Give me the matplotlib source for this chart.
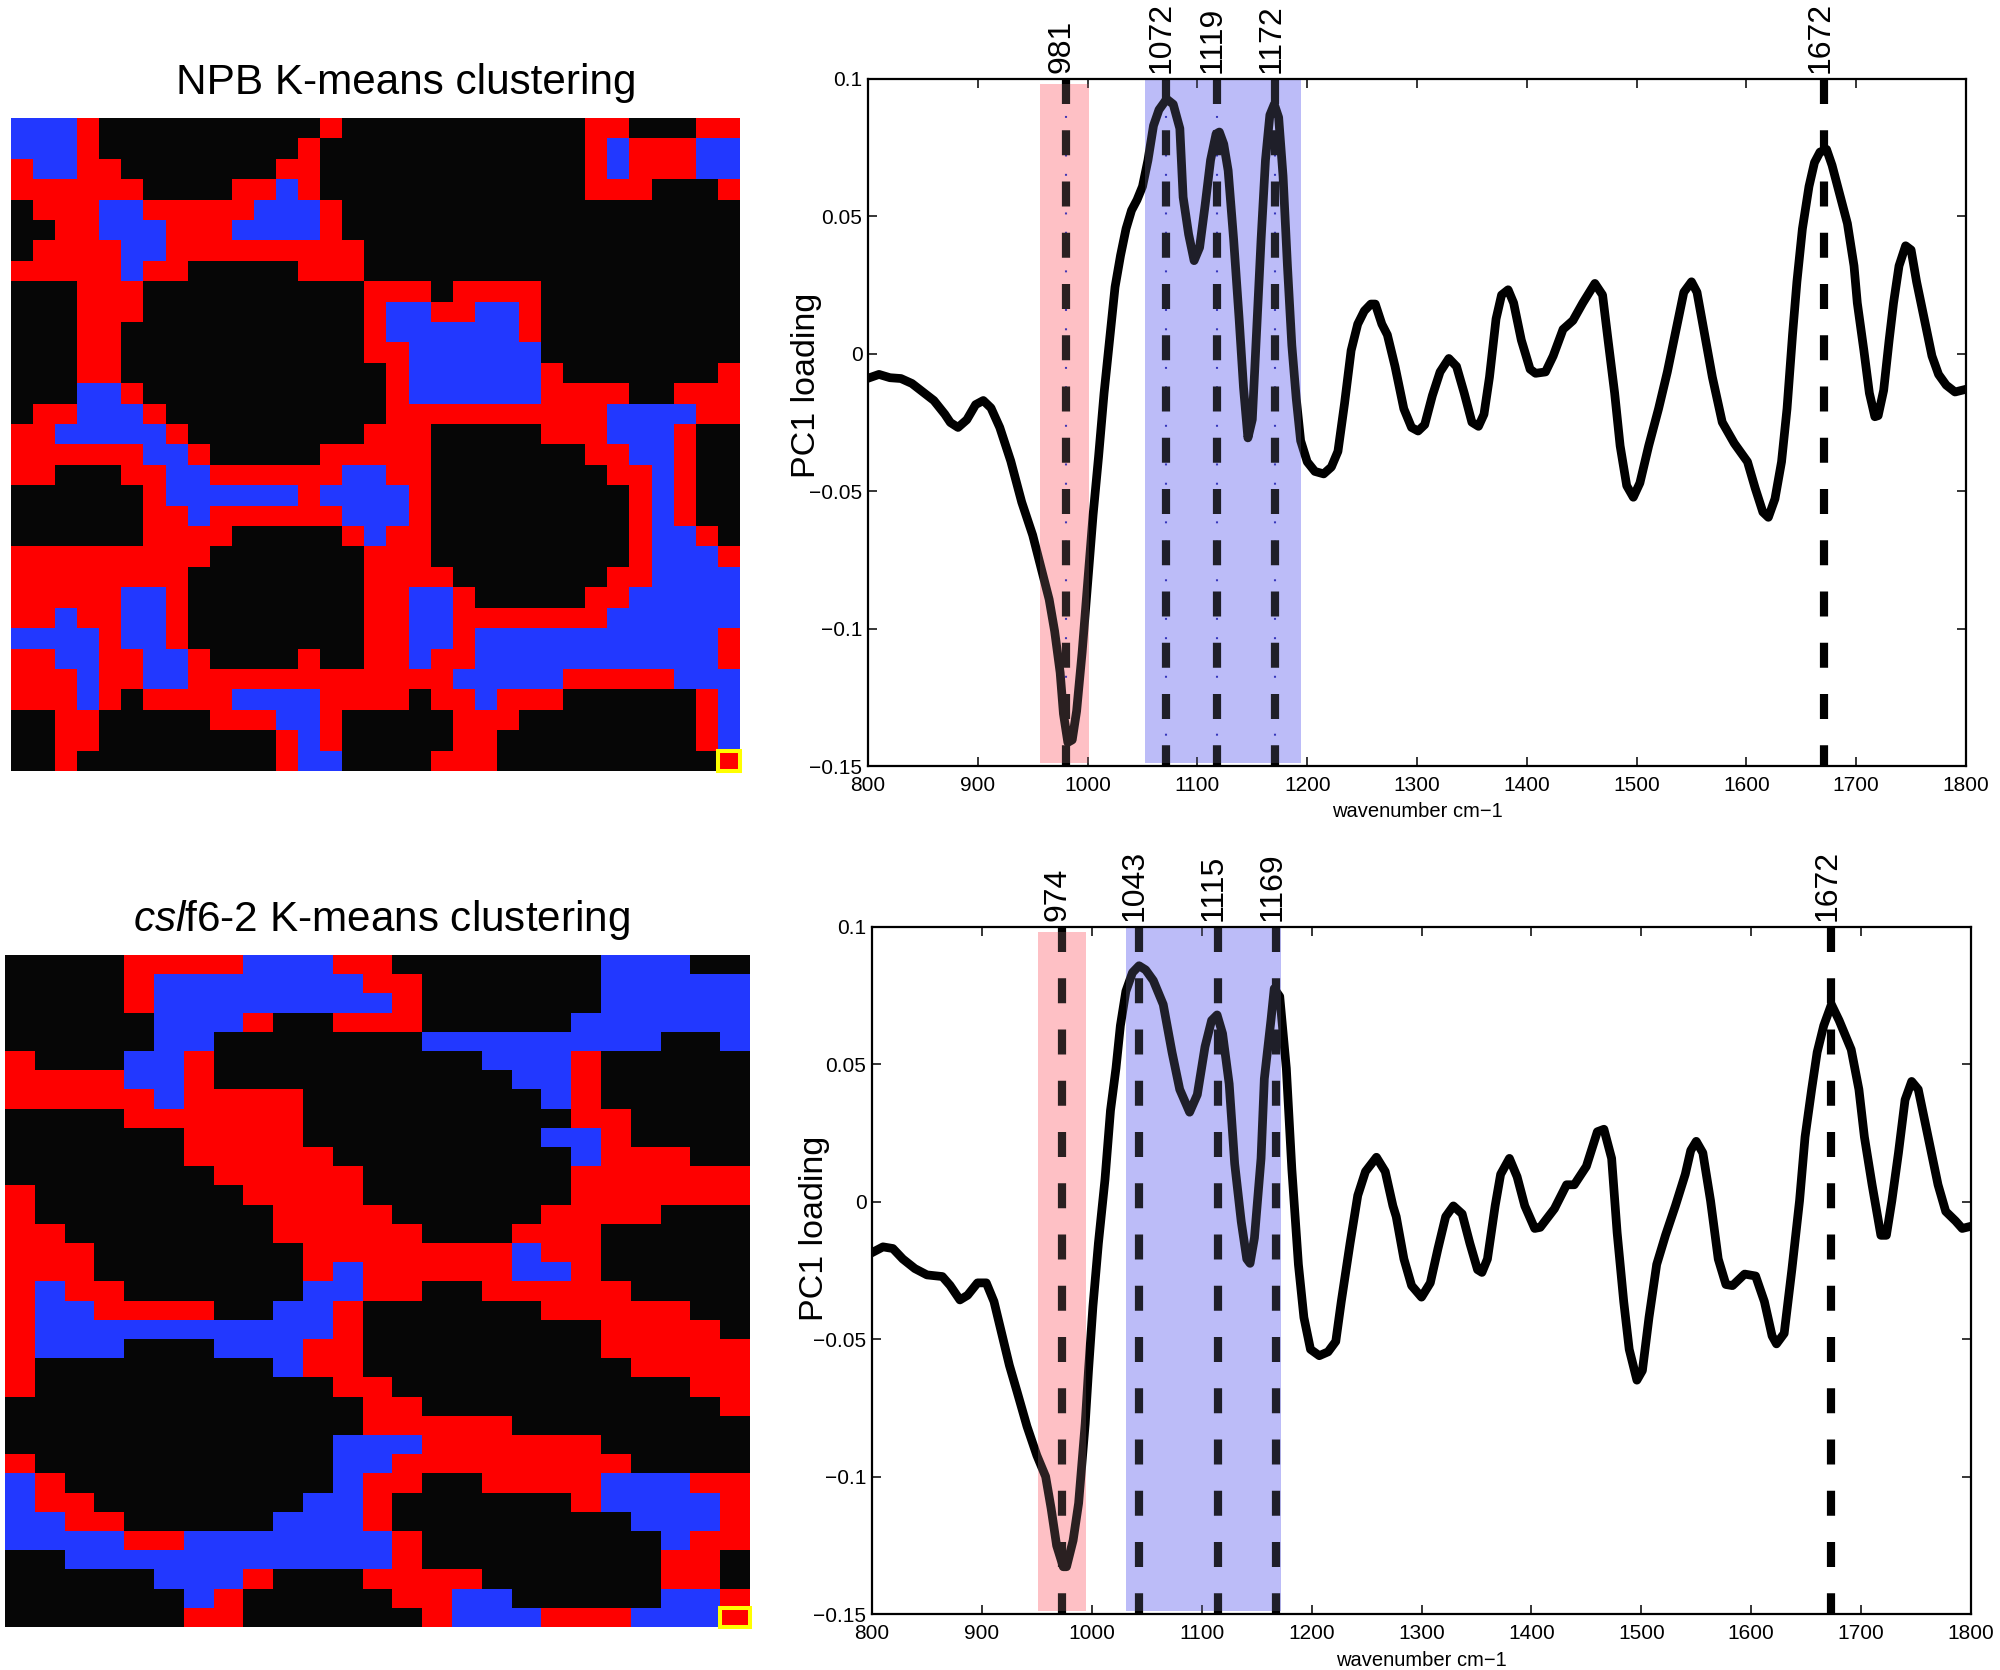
import matplotlib
matplotlib.use('Agg')
import matplotlib.pyplot as plt
from matplotlib.colors import ListedColormap
from matplotlib.patches import Rectangle
import numpy as np

plt.rcParams['font.family'] = ['Liberation Sans', 'DejaVu Sans']
plt.rcParams['mathtext.fontset'] = 'custom'
plt.rcParams['mathtext.rm'] = 'Liberation Sans'
plt.rcParams['mathtext.it'] = 'Liberation Sans:italic'
plt.rcParams['lines.scale_dashes'] = False

# cluster maps: . = background, r = cluster 1, b = cluster 2
npb_rows = [
    "bbb r .......... r ........... rr ... rr",
    "bbb r ......... r ............ r b rrr bb",
    "r bb rr ....... rr ............ r b rrr bb",
    "rrrrrr .... rr b r ............ rrr ... r",
    ". rrr bb rrrrr bbb r ..................",
    ".. rr bbb rrr bbbb r ..................",
    ". rrrr bb rrrrrrrrr .................",
    "rrrrr b rr ..... rrr .................",
    "... rrr .......... rrr . rrrr .........",
    "... rrr .......... r bb rr bb r .........",
    "... rr ........... r bbbbbb r .........",
    "... rr ........... rr bbbbbb .........",
    "... rr ............ r bbbbbb r ....... r",
    "... bb r ........... r bbbbbb rrrr .. rrr",
    ". rr bbb r .......... rrrrrrrrrr bbbb rr",
    "rr bbbbb r ........ rrr ..... rrr bbb r ..",
    "rrrrrr bb r ..... rrrrr ....... rr bb r ..",
    "rr ... rr bb rrrrrr bb rr ........ rr b r ..",
    "...... r bbbbbb r bbbb r ......... r b r ..",
    "...... rr b rrrrrr bbb r ......... r b r ..",
    "...... rrrr ..... r b rr ......... r bb r .",
    "rrrrrrrrr ....... rrr ......... r bbb r",
    "rrrrrrrr ........ rrrr ....... rr bbbb",
    "rrrrr bb r ........ rr bb r ..... rr bbbbb",
    "rr b rr bb r ........ rr bb rrrrrrr bbbbbb",
    "bbbb r bb r ........ rr bb r bbbbbbbbbbb r",
    "rr bb rr bb r .... r .. rr b rr bbbbbbbbbbb r",
    "rrr b rr bb rrrrrrrrrrrr bbbbb rrrrr bbb",
    "rrr b r . rrrr bbbb rrrr . rr b rrr ...... r b",
    ".. rr ..... rrr bb r ..... rrr ........ r b",
    ".. rr ........ r b r ..... rr ......... r b",
    ".. r ......... r bb .... rrr .......... r",
]
cslf_rows = [
    ".... rrrr bbb rr ....... bbb ..",
    ".... r bbbbbbb rr ...... bbbbb",
    ".... r bbbbbbbb r ...... bbbbb",
    "..... bbb r .. rrr ..... bbbbbb",
    "..... bb ....... bbbbbbbb .. b",
    "r ... bb r ......... bbb r .....",
    "rrrr bb r .......... bb r .....",
    "rrrrr b rrrr ........ b r .....",
    ".... rrrrrr ......... rr ....",
    "...... rrrr ........ bb r ....",
    "...... rrrrr ........ b rrr ..",
    "....... rrrrr ....... rrrrrr",
    "r ....... rrrr ....... rrrrrr",
    "r ........ rrrr ..... rrrr ...",
    "rr ....... rrrrr ... rrr .....",
    "rrr ....... rrrrrrr b rr .....",
    "rrr ....... r b rrrrr bb r .....",
    "r b rr ...... bb rr .. rrrrr ....",
    "r bb rrrr .. bb r ...... rrrrr ..",
    "r bbbbbbbbbb r ........ rrrr .",
    "r bbb ... bbb rr ........ rrrrr",
    "r ........ b rr ......... rrrr",
    "r .......... rr .......... rr",
    "............ rr .......... r",
    "............ rrrrr ........",
    "........... bbb rrrrrr .....",
    "r .......... bb rrrrrrrr ....",
    "b r ......... b rr .. rrrr bbb rr",
    "b rr ....... bb r ...... r bbbb r",
    "bb rr ..... bbb r ........ bbb r",
    "bbbb rr bbbbbbb r ........ b rr",
    ".. bbbbbbbbbbb r ........ rr .",
    "..... bbb r ... rrrr ...... rr .",
    "...... b r ..... rr bb ..... bb r",
    "...... rr ...... r bbb rrr bbb r",
]

# PC1 loading spectra
npb_wn = [800, 810, 820, 830, 840, 850, 860, 870, 875, 882, 890, 898, 905, 912, 920, 930, 940, 950, 960, 965,
          970, 975, 978, 982, 986, 990, 995, 1000, 1005, 1010, 1015, 1020, 1025, 1030, 1035, 1040, 1045, 1050,
          1055, 1060, 1065, 1072, 1078, 1084, 1087, 1092, 1097, 1102, 1107, 1112, 1117, 1120, 1124, 1128, 1133,
          1138, 1142, 1146, 1150, 1154, 1158, 1162, 1166, 1170, 1174, 1178, 1182, 1186, 1190, 1194, 1200, 1207,
          1215, 1222, 1228, 1234, 1240, 1246, 1252, 1258, 1262, 1268, 1273, 1280, 1288, 1295, 1301, 1307, 1314,
          1321, 1329, 1336, 1343, 1350, 1356, 1361, 1366, 1372, 1377, 1383, 1388, 1395, 1403, 1408, 1417, 1424,
          1433, 1442, 1451, 1462, 1469, 1474, 1480, 1485, 1491, 1497, 1503, 1511, 1520, 1528, 1536, 1543, 1550,
          1555, 1562, 1569, 1578, 1589, 1601, 1608, 1615, 1620, 1626, 1632, 1637, 1642, 1646, 1651, 1657, 1662,
          1667, 1673, 1678, 1685, 1692, 1698, 1701, 1707, 1712, 1717, 1720, 1725, 1730, 1734, 1739, 1745, 1750,
          1755, 1762, 1769, 1775, 1782, 1790, 1800]
npb_pc1 = [-.0089, -.0075, -.0087, -.009, -.0108, -.0139, -.017, -.022, -.025, -.0268, -.024, -.0185, -.017, -.0197,
           -.0268, -.039, -.054, -.066, -.0817, -.0894, -.101, -.116, -.131, -.1414, -.1405, -.13, -.1087, -.0836,
           -.0586, -.0374, -.0143, .005, .0243, .0358, .0455, .0522, .056, .0609, .0705, .083, .0888, .0927, .0908,
           .082, .057, .0435, .0339, .0387, .054, .0705, .08, .0807, .0763, .0667, .0416, .0127, -.0123, -.0306,
           -.0239, .0089, .0416, .0705, .0869, .0908, .086, .0647, .032, .0031, -.0162, -.0316, -.0393, -.0428,
           -.0437, -.0412, -.0355, -.0181, .0012, .0108, .0156, .0181, .0181, .0108, .0069, -.0046, -.02, -.0268,
           -.0281, -.0258, -.0152, -.0066, -.0017, -.0046, -.0143, -.0249, -.0264, -.022, -.0085, .0127, .0214,
           .0233, .0185, .005, -.0056, -.0071, -.0066, -.0008, .0089, .0121, .0185, .0256, .0214, .005, -.0143,
           -.0335, -.048, -.0522, -.047, -.0335, -.02, -.0066, .0089, .0224, .0262, .0224, .0069, -.0085, -.0249,
           -.0326, -.0393, -.0489, -.0576, -.0595, -.0528, -.0393, -.02, .0069, .0262, .0455, .0609, .0696, .0734,
           .0744, .0686, .058, .0474, .032, .0185, .0012, -.0143, -.0229, -.0225, -.0133, .005, .0185, .032, .0393,
           .0378, .0262, .0127, -.0008, -.0075, -.0114, -.0139, -.0129]

cslf_wn = [800, 810, 819, 828, 839, 850, 864, 871, 880, 887, 896, 904, 911, 918, 925, 932, 941, 950, 958, 963, 968,
           974, 977, 983, 988, 994, 997, 1001, 1006, 1012, 1017, 1022, 1026, 1031, 1037, 1043, 1049, 1056, 1065,
           1073, 1080, 1089, 1096, 1103, 1109, 1114, 1119, 1125, 1130, 1136, 1141, 1144, 1148, 1154, 1157, 1163,
           1166, 1171, 1177, 1182, 1188, 1193, 1199, 1207, 1215, 1222, 1227, 1235, 1242, 1249, 1259, 1267, 1274,
           1277, 1284, 1291, 1300, 1308, 1315, 1322, 1329, 1337, 1344, 1351, 1355, 1360, 1367, 1372, 1380, 1387,
           1394, 1403, 1408, 1421, 1432, 1439, 1450, 1460, 1466, 1473, 1478, 1484, 1489, 1496, 1501, 1507, 1514,
           1522, 1531, 1540, 1545, 1550, 1556, 1563, 1570, 1577, 1583, 1594, 1604, 1612, 1619, 1623, 1630, 1637,
           1644, 1649, 1655, 1660, 1666, 1673, 1680, 1691, 1698, 1703, 1710, 1718, 1723, 1728, 1734, 1740, 1746,
           1752, 1761, 1770, 1777, 1786, 1792, 1800]
cslf_pc1 = [-.0185, -.0164, -.017, -.0208, -.0243, -.0266, -.0272, -.0304, -.0357, -.034, -.0295, -.0295, -.0363,
            -.0479, -.0595, -.0691, -.0817, -.0923, -.1, -.1116, -.1251, -.1328, -.1328, -.1232, -.1097, -.0807,
            -.0614, -.0382, -.0151, .0081, .0332, .0486, .0641, .0766, .0834, .0859, .0844, .0805, .0718, .0544,
            .0409, .0326, .039, .0564, .066, .068, .0612, .0429, .0139, -.0073, -.0208, -.0224, -.0131, .0158,
            .0448, .066, .0776, .0747, .0486, .012, -.0228, -.0421, -.0537, -.056, -.0546, -.0508, -.0363, -.0151,
            .0023, .011, .0162, .011, -.0015, -.0054, -.0208, -.0305, -.0347, -.0295, -.017, -.0054, -.0015, -.0044,
            -.0151, -.0247, -.0257, -.0208, -.0015, .01, .0158, .0091, -.0015, -.0097, -.0093, -.0025, .0062, .0062,
            .0129, .0255, .0264, .0158, -.0112, -.0363, -.0537, -.0649, -.0614, -.0421, -.0228, -.0122, -.0015, .01,
            .0187, .022, .0178, .0004, -.0208, -.0301, -.0305, -.0263, -.027, -.0363, -.0488, -.0517, -.0479,
            -.0247, .0004, .0236, .0409, .0544, .0641, .0718, .066, .0554, .0409, .0236, .0062, -.0122, -.0122,
            .0004, .0178, .0371, .0438, .0409, .0236, .0062, -.0035, -.007, -.0097, -.0089]

# peak positions, their labels and the shaded bands
npb_peaks = [980, 1071, 1118, 1171, 1671]
npb_labels = ['981', '1072', '1119', '1172', '1672']
npb_dotted = [980, 1071, 1118, 1171]
npb_pink = (957, 1001)
npb_blue = (1052, 1194)
cslf_peaks = [973, 1043, 1115, 1168, 1673]
cslf_labels = ['974', '1043', '1115', '1169', '1672']
cslf_dotted = []
cslf_pink = (951, 995)
cslf_blue = (1031, 1172)

x_ticks = list(range(800, 1801, 100))
y_ticks = [-0.15, -0.1, -0.05, 0, 0.05, 0.1]
y_tick_labels = ['\u22120.15', '\u22120.1', '\u22120.05', '0', '0.05', '0.1']

W, H = 2000, 1670
PINK = '#fec0c5'
BLUE = '#bcbcf8'
CLUSTER_COLORS = ListedColormap(['#060606', '#fe0000', '#2238ff'])


def px_axes(fig, left, top, right, bottom):
    return fig.add_axes([left / W, 1 - bottom / H, (right - left) / W, (bottom - top) / H])


def draw_map(fig, rows, box, title, title_x, title_y):
    codes = {'.': 0, 'r': 1, 'b': 2}
    grid = np.array([[codes[c] for c in r.replace(' ', '')] for r in rows])
    ax = px_axes(fig, *box)
    ax.imshow(grid, cmap=CLUSTER_COLORS, vmin=0, vmax=2, aspect='auto', interpolation='nearest')
    ax.axis('off')
    nrow, ncol = grid.shape
    # yellow marker round the corner cell
    ax.add_patch(Rectangle((ncol - 1.5, nrow - 1.5), 1, 1, fill=False, edgecolor='#ffff00', lw=2.9, clip_on=False))
    fig.text(title_x / W, 1 - title_y / H, title, fontsize=30.4, ha='center', va='baseline')


def draw_spectrum(fig, wn, pc1, peaks, labels, dotted, pink, blue, box, xlabel_y, ylabel_x, ylabel_y):
    ax = px_axes(fig, *box)
    ymin, ymax = y_ticks[0], y_ticks[-1]
    ax.axvspan(pink[0], pink[1], ymin=0.004, ymax=0.993, color=PINK, lw=0, zorder=1)
    ax.axvspan(blue[0], blue[1], ymin=0.004, ymax=1, color=BLUE, lw=0, zorder=1)
    # faint dotted guides show through the gaps of the dashes
    for p in dotted:
        ax.plot([p, p], [ymax, ymin], color='#1c1cb0', lw=1.5, linestyle=(1.2, (1.4, 12.5)), zorder=1.5)
    for p, lab in zip(peaks, labels):
        ax.plot([p, p], [ymax, ymin], color='black', lw=5.9, linestyle=(0, (18, 18.9)), zorder=2)
        ax.annotate(lab, (p, ymax), xytext=(-3, 4), textcoords='offset points', rotation=90,
                    ha='center', va='bottom', fontsize=23, annotation_clip=False)
    ax.plot(wn, pc1, color='black', lw=6.3, solid_joinstyle='round', zorder=3)
    # bands sit over the lines in the original, so black turns slightly grey there
    ax.axvspan(pink[0], pink[1], ymin=0.004, ymax=0.993, color=PINK, alpha=0.17, lw=0, zorder=4)
    ax.axvspan(blue[0], blue[1], ymin=0.004, ymax=1, color=BLUE, alpha=0.17, lw=0, zorder=4)
    ax.set_xlim(800, 1800)
    ax.set_ylim(ymin, ymax)
    ax.set_xticks(x_ticks)
    ax.set_yticks(y_ticks)
    ax.set_yticklabels(y_tick_labels)
    ax.tick_params(direction='in', top=True, right=True, length=6.5, width=1.1, labelsize=15, pad=4)
    ax.tick_params(axis='x', pad=7)
    for s in ax.spines.values():
        s.set_linewidth(1.6)
        s.set_zorder(5)
    fig.text((box[0] + box[2]) / 2 / W, 1 - xlabel_y / H, 'wavenumber cm\u22121', fontsize=14.5, ha='center', va='center')
    fig.text(ylabel_x / W, 1 - ylabel_y / H, 'PC1 loading', fontsize=24.5, rotation=90, ha='center', va='center')


fig = plt.figure(figsize=(W / 100, H / 100), dpi=100)
draw_map(fig, npb_rows, (11, 118, 740, 771), 'NPB K-means clustering', 406, 94)
draw_map(fig, cslf_rows, (5, 955, 750, 1627), r'$\mathit{csl}$f6-2 K-means clustering', 382, 931)
draw_spectrum(fig, npb_wn, npb_pc1, npb_peaks, npb_labels, npb_dotted, npb_pink, npb_blue,
              (868, 79, 1966, 766), 811, 807, 385)
draw_spectrum(fig, cslf_wn, cslf_pc1, cslf_peaks, cslf_labels, cslf_dotted, cslf_pink, cslf_blue,
              (872, 927, 1971, 1614), 1660, 815, 1228)
fig.savefig('out.png', dpi=100)
